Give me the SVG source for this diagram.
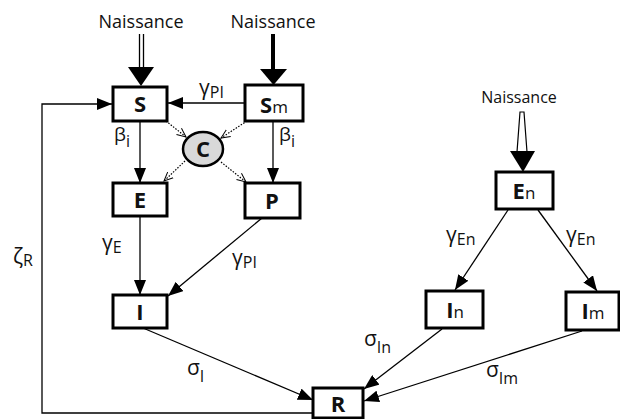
<svg xmlns="http://www.w3.org/2000/svg" width="620" height="419" viewBox="0 0 620 419">
  <style>
    text, tspan { font-family: "Open Sans", "Noto Sans", "DejaVu Sans", sans-serif; fill: #111; }
    .box { fill: #fff; stroke: #000; stroke-width: 3; }
    .lbl { font-size: 22px; font-weight: bold; text-anchor: middle; }
    .sub { font-size: 17px; font-weight: normal; }
    .birth { font-size: 18px; text-anchor: middle; }
    .rate { font-size: 21px; }
    .rsub { font-size: 16px; }
    .edge { stroke: #000; stroke-width: 1.3; fill: none; marker-end: url(#head); }
    .dot { stroke: #000; stroke-width: 1.2; fill: none; stroke-dasharray: 1.5 1.5; marker-end: url(#open); }
  </style>
  <defs>
    <marker id="head" markerUnits="userSpaceOnUse" markerWidth="16" markerHeight="12" refX="15" refY="6" orient="auto">
      <path d="M0,0 L15,6 L0,12 z" fill="#000"/>
    </marker>
    <marker id="open" markerUnits="userSpaceOnUse" markerWidth="10" markerHeight="10" refX="9" refY="5" orient="auto">
      <path d="M0,1 L9,5 L0,9" fill="none" stroke="#000" stroke-width="1"/>
    </marker>
  </defs>

  <!-- birth inflows -->
  <g id="birth-S">
    <text class="birth" x="141" y="28">Naissance</text>
    <line x1="139.5" y1="34" x2="139.5" y2="68" stroke="#000" stroke-width="1.3"/>
    <line x1="143.5" y1="34" x2="143.5" y2="68" stroke="#000" stroke-width="1.3"/>
    <polygon points="128,67 154,67 141,86" fill="#000"/>
  </g>
  <g id="birth-Sm">
    <text class="birth" x="273" y="28">Naissance</text>
    <line x1="273" y1="34" x2="273" y2="70" stroke="#000" stroke-width="4"/>
    <polygon points="260,69 287,69 273.5,85" fill="#000"/>
  </g>
  <g id="birth-En">
    <text class="birth" x="519" y="103" style="font-size:16px">Naissance</text>
    <polygon points="520,112 524,112 527,152 517,152" fill="#fff" stroke="#000" stroke-width="1.2"/>
    <polygon points="510,151 535,151 523,172" fill="#000"/>
  </g>

  <!-- connectors -->
  <g id="connectors">
    <line class="edge" x1="245" y1="103" x2="168" y2="103"/>
    <polyline class="edge" points="313,413 42,413 42,104 112,104"/>
    <line class="edge" x1="140" y1="121" x2="140" y2="183"/>
    <line class="edge" x1="273" y1="121" x2="273" y2="183"/>
    <line class="dot" x1="166" y1="121" x2="186" y2="137"/>
    <line class="dot" x1="247" y1="121" x2="221" y2="138"/>
    <line class="dot" x1="185" y1="161" x2="164" y2="181"/>
    <line class="dot" x1="221" y1="162" x2="246" y2="182"/>
    <line class="edge" x1="140" y1="216" x2="140" y2="295"/>
    <line class="edge" x1="262" y1="218" x2="168" y2="296"/>
    <line class="edge" x1="143" y1="328" x2="313" y2="400"/>
    <line class="edge" x1="508" y1="210" x2="455" y2="290"/>
    <line class="edge" x1="538" y1="210" x2="597" y2="291"/>
    <line class="edge" x1="442" y1="329" x2="364" y2="389"/>
    <line class="edge" x1="582" y1="331" x2="364" y2="401"/>

    <!-- rate labels -->
    <text class="rate" x="199" y="95">γ<tspan class="rsub" dy="3">PI</tspan></text>
    <text class="rate" x="114" y="141" style="font-size:19px">β<tspan class="rsub" dy="6">i</tspan></text>
    <text class="rate" x="279" y="141" style="font-size:19px">β<tspan class="rsub" dy="6">i</tspan></text>
    <text class="rate" x="102" y="250">γ<tspan class="rsub" dy="3">E</tspan></text>
    <text class="rate" x="232" y="265">γ<tspan class="rsub" dy="3">PI</tspan></text>
    <text class="rate" x="187" y="375">σ<tspan class="rsub" dy="7">I</tspan></text>
    <text class="rate" x="13" y="264">ζ<tspan class="rsub" dy="2">R</tspan></text>
    <text class="rate" x="446" y="242">γ<tspan class="rsub" dy="3">En</tspan></text>
    <text class="rate" x="566" y="242">γ<tspan class="rsub" dy="3">En</tspan></text>
    <text class="rate" x="364" y="346">σ<tspan class="rsub" dy="7">In</tspan></text>
    <text class="rate" x="486" y="377">σ<tspan class="rsub" dy="7">Im</tspan></text>
  </g>

  <!-- compartments -->
  <g id="S">
    <rect class="box" x="113" y="87" width="54" height="34"/>
    <text class="lbl" x="140" y="112">S</text>
  </g>
  <g id="Sm">
    <rect class="box" x="245" y="85" width="58" height="36"/>
    <text class="lbl" x="274" y="113">S<tspan class="sub">m</tspan></text>
  </g>
  <g id="C">
    <ellipse cx="203" cy="149" rx="20" ry="17" fill="#d9d9d9" stroke="#000" stroke-width="2.5"/>
    <text class="lbl" x="203" y="157">C</text>
  </g>
  <g id="E">
    <rect class="box" x="113" y="183" width="54" height="33"/>
    <text class="lbl" x="140" y="208">E</text>
  </g>
  <g id="P">
    <rect class="box" x="245" y="183" width="55" height="35"/>
    <text class="lbl" x="272" y="209">P</text>
  </g>
  <g id="I">
    <rect class="box" x="113" y="295" width="54" height="33"/>
    <text class="lbl" x="140" y="320">I</text>
  </g>
  <g id="En">
    <rect class="box" x="496" y="172" width="57" height="37"/>
    <text class="lbl" x="524" y="199">E<tspan class="sub">n</tspan></text>
  </g>
  <g id="In">
    <rect class="box" x="426" y="291" width="57" height="37"/>
    <text class="lbl" x="455" y="318">I<tspan class="sub">n</tspan></text>
  </g>
  <g id="Im">
    <rect class="box" x="566" y="292" width="53" height="38"/>
    <text class="lbl" x="593" y="319">I<tspan class="sub">m</tspan></text>
  </g>
  <g id="R">
    <rect class="box" x="313" y="388" width="50" height="30"/>
    <text class="lbl" x="338" y="412">R</text>
  </g>
</svg>
